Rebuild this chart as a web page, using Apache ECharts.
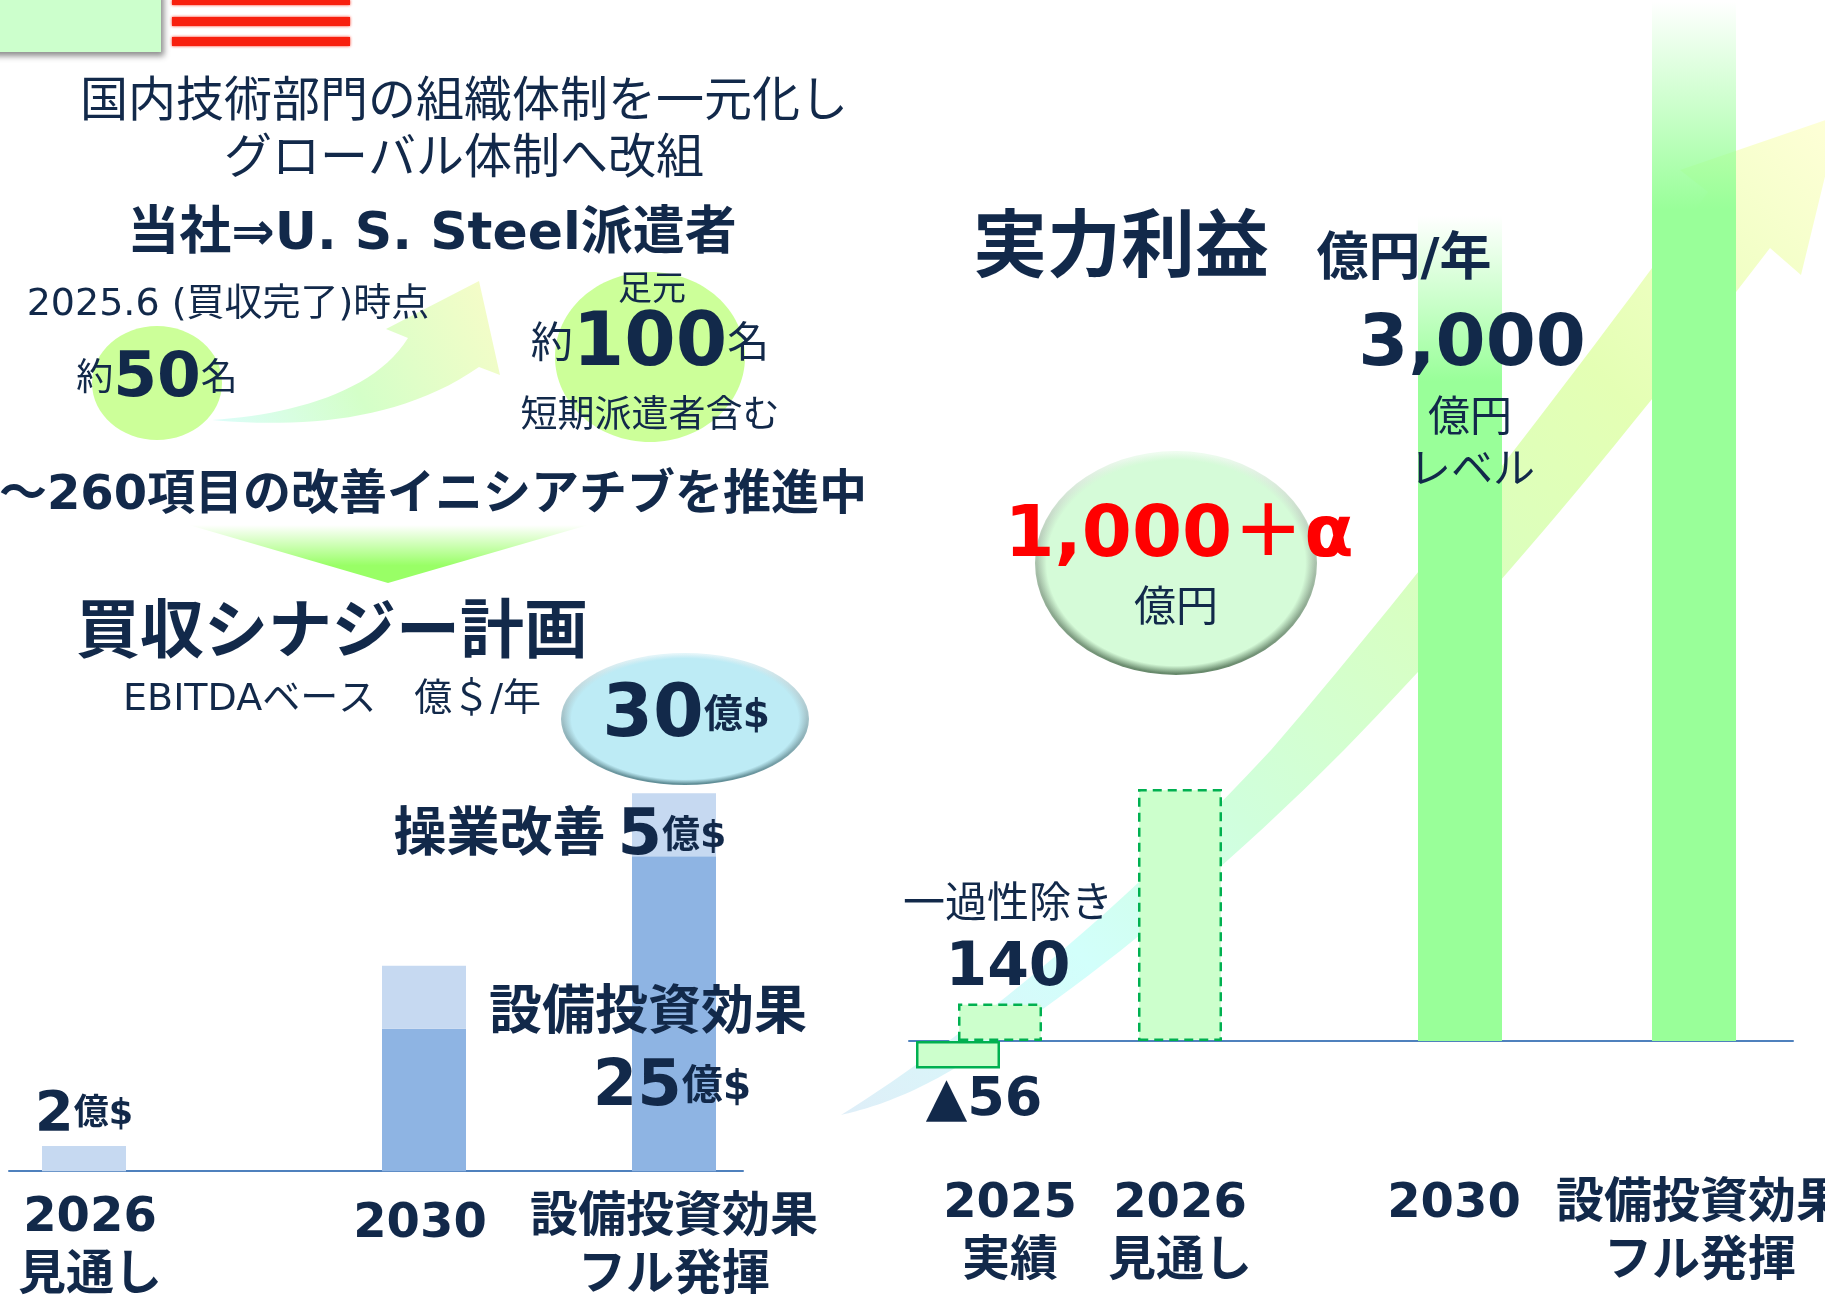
<!DOCTYPE html>
<html>
<head>
<meta charset="utf-8">
<style>
  html, body { margin: 0; background: #fff; }
  #chart { width: 1825px; height: 1296px; }
</style>
</head>
<body>
<div id="chart"></div>
<script src="https://cdn.jsdelivr.net/npm/echarts@6/dist/echarts.min.js"></script>
<script>
// left chart: synergy plan (oku $ / year)
const synergyLabels = ['2026\n見通し', '2030', '設備投資効果\nフル発揮'];
const capexEffect = [0, 11.3, 25];
const opImprovement = [2, 5, 5];

// right chart: underlying profit (oku yen / year)
// the slide is not drawn to scale, so bar heights are read from the picture
const profitLabels = ['2025\n実績', '2026\n見通し', '2030', '設備投資効果\nフル発揮'];
const profitActual = [-110];
const profitExOneOff = [150];
const profitForecast = [1008];
const profitTarget = [3300, 4160];

// both x axes are fine grained category axes (2px a slot) so the uneven bar spacing can be kept
const SYNERGY_SLOTS = 367;
const PROFIT_SLOTS = 442;
const synergyBarSlots = [37, 207, 332];
const synergyLabelSlots = [40, 205, 332];
const profitActualSlots = [24];
const profitExOneOffSlots = [45];
const profitForecastSlots = [135];
const profitTargetSlots = [275, 392];
const profitLabelSlots = [50, 135, 272, 395];

const NAVY = '#12294a';
const FONT = '"DejaVu Sans","Noto Sans CJK JP"';
const TEXT_DY = 5;
const G = echarts.graphic;

const place = (count, slots, values) => {
  const out = new Array(count).fill(null);
  slots.forEach((s, i) => { out[s] = values[i]; });
  return out;
};
const axisData = (count, slots, labels, extra) => {
  const out = new Array(count).fill('');
  slots.forEach((s, i) => {
    out[s] = { value: labels[i], textStyle: extra && extra[i] ? extra[i] : {} };
  });
  return out;
};

// sample a cubic curve for the decorative arrow outlines
const bez = (a, b, c, d) => {
  const pts = [];
  for (let i = 0; i <= 24; i++) {
    const t = i / 24, u = 1 - t;
    pts.push([
      u * u * u * a[0] + 3 * u * u * t * b[0] + 3 * u * t * t * c[0] + t * t * t * d[0],
      u * u * u * a[1] + 3 * u * u * t * b[1] + 3 * u * t * t * c[1] + t * t * t * d[1]
    ]);
  }
  return pts;
};

const text = (str, x, y, size, weight, color) => ({
  type: 'text', x, y: y + TEXT_DY, z: 10, silent: true,
  style: {
    text: str, fill: color || NAVY, align: 'center', verticalAlign: 'middle',
    font: (weight || 400) + ' ' + size + 'px ' + FONT
  }
});
const richText = (str, x, y, rich) => ({
  type: 'text', x, y: y + TEXT_DY, z: 10, silent: true,
  style: { text: str, fill: NAVY, align: 'center', verticalAlign: 'middle', rich }
});
const rt = (size, weight, extra) => Object.assign(
  { fontSize: size, fontWeight: weight, fontFamily: FONT, fill: NAVY, color: NAVY }, extra
);

// bevelled oval: circle scaled in y so the gradients follow the ellipse
const oval = (x, y, rx, ry, main, top, bottom) => [
  {
    type: 'circle', x, y, scaleY: ry / rx, z: 5, silent: true, shape: { cx: 0, cy: 0, r: rx },
    style: { fill: new G.LinearGradient(0, 0, 0, 1, [{ offset: 0, color: top }, { offset: 1, color: bottom }]) }
  },
  {
    type: 'circle', x, y, scaleY: ry / rx, z: 6, silent: true, shape: { cx: 0, cy: 0, r: rx - 2 },
    style: {
      fill: new G.RadialGradient(0.5, 0.5, 0.5, [
        { offset: 0, color: main }, { offset: 0.93, color: main }, { offset: 1, color: main + '00' }
      ])
    }
  }
];

const flagStripe = (y, h) => ({
  type: 'rect', z: 1, silent: true, shape: { x: 172, y, width: 178, height: h },
  style: { fill: '#f8200e', shadowColor: '#f8200e', shadowBlur: 3 }
});

const decorations = [
  // corner box and flag
  {
    type: 'rect', z: 1, silent: true, shape: { x: -10, y: -10, width: 171, height: 62 },
    style: { fill: '#ccffcc', shadowColor: 'rgba(0,0,0,0.45)', shadowBlur: 6, shadowOffsetX: 3, shadowOffsetY: 4 }
  },
  flagStripe(0, 5), flagStripe(17, 9), flagStripe(37, 9),
  // big arrow behind the profit bars
  {
    type: 'polygon', z: 1, silent: true,
    shape: {
      points: [].concat(
        bez([841, 1115], [930, 1060], [1100, 935], [1271, 750]),
        bez([1271, 750], [1400, 600], [1560, 395], [1708, 192]),
        [[1680, 170], [1840, 115], [1801, 275], [1770, 248]],
        bez([1770, 248], [1600, 470], [1480, 610], [1344, 750]),
        bez([1344, 750], [1180, 915], [1040, 1015], [957, 1067]),
        bez([957, 1067], [905, 1098], [870, 1108], [841, 1115])
      )
    },
    style: {
      fill: new G.LinearGradient(0, 1, 1, 0, [
        { offset: 0, color: '#dfeef8' }, { offset: 0.2, color: '#d2fffb' }, { offset: 0.35, color: '#d0ffdc' },
        { offset: 0.55, color: '#d8ffc0' }, { offset: 0.75, color: '#e4ffb4' }, { offset: 1, color: '#ffffd8' }
      ])
    }
  },
  // people ellipses and the small curved arrow
  { type: 'ellipse', z: 1, silent: true, shape: { cx: 157, cy: 383, rx: 65, ry: 57 }, style: { fill: '#ccff99' } },
  { type: 'ellipse', z: 1, silent: true, shape: { cx: 650, cy: 357, rx: 95, ry: 85 }, style: { fill: '#ccff99' } },
  {
    type: 'polygon', z: 2, silent: true,
    shape: {
      points: [].concat(
        bez([212, 420], [290, 415], [375, 392], [408, 338]),
        [[386, 329], [479, 281], [500, 375]],
        bez([479, 367], [400, 422], [300, 428], [212, 420])
      )
    },
    style: {
      fill: new G.LinearGradient(0, 1, 1, 0, [
        { offset: 0, color: '#dcfdfb' }, { offset: 0.45, color: '#d4ffc8' }, { offset: 1, color: '#f8fcc8' }
      ])
    }
  },
  // arrow under the initiatives line
  {
    type: 'polygon', z: 1, silent: true, shape: { points: [[189, 525], [588, 525], [388, 583]] },
    style: {
      fill: new G.LinearGradient(0, 0, 0, 1, [
        { offset: 0, color: '#ffffff' }, { offset: 0.7, color: '#99ff66' }, { offset: 1, color: '#99ff66' }
      ])
    }
  },
  ...oval(685, 719, 124, 66, '#bdebf5', '#e4f6fa', '#5f8d96'),
  ...oval(1176, 563, 141, 112, '#d5fbd8', '#effdf0', '#67896b')
];

const labels = [
  text('国内技術部門の組織体制を一元化し', 464, 99, 48),
  text('グローバル体制へ改組', 464, 156, 48),
  text('当社⇒U. S. Steel派遣者', 432, 230, 52, 700),
  text('2025.6 (買収完了)時点', 228, 300, 38),
  richText('{a|約}{b|50}{a|名}', 157, 375, { a: rt(37, 400), b: rt(63, 700) }),
  text('足元', 652, 286, 34),
  richText('{a|約}{b|100}{a|名}', 650, 341, { a: rt(42, 400), b: rt(74, 700) }),
  text('短期派遣者含む', 650, 412, 37),
  text('～260項目の改善イニシアチブを推進中', 433, 492, 48, 700),
  text('買収シナジー計画', 332, 630, 64, 700),
  text('EBITDAベース　億＄/年', 332, 695, 38),
  richText('{b|30}{a|億$}', 686, 712, { a: rt(39, 700), b: rt(73, 700) }),
  richText('{t|操業改善}{b|5}{a|億$}', 560, 832, {
    t: rt(53, 700), a: rt(38, 700), b: rt(64, 700, { padding: [0, 0, 0, 12] })
  }),
  text('設備投資効果', 648, 1010, 53, 700),
  richText('{b|25}{a|億$}', 672, 1083, { a: rt(41, 700), b: rt(64, 700) }),
  richText('{b|2}{a|億$}', 84, 1110, { a: rt(35, 700), b: rt(56, 700) }),
  text('実力利益', 1121, 247, 74, 700),
  text('億円/年', 1404, 256, 52, 700),
  text('3,000', 1472, 341, 72, 700),
  text('億円', 1470, 415, 42),
  text('レベル', 1472, 467, 42),
  text('1,000＋α', 1179, 532, 72, 700, '#ff0000'),
  text('億円', 1176, 605, 42),
  text('一過性除き', 1008, 901, 42),
  text('140', 1008, 964, 60, 700),
  text('▲56', 984, 1096, 54, 700)
];

const chart = echarts.init(document.getElementById('chart'));

const axisLabelBase = {
  show: true, interval: 0, color: NAVY, fontFamily: FONT, fontWeight: 700, fontSize: 48,
  lineHeight: 58, hideOverlap: false
};
const xBase = {
  type: 'category', axisTick: { show: false }, splitLine: { show: false },
  axisLine: { show: true, onZero: true, lineStyle: { color: '#4f81bd', width: 2 } }
};
const solidFade = new G.LinearGradient(0, 0, 0, 1, [
  { offset: 0, color: 'rgba(153,255,153,0)' }, { offset: 0.2, color: '#99ff99' }, { offset: 1, color: '#99ff99' }
]);
const dashed = { color: '#ccffcc', borderColor: '#00b050', borderWidth: 2.5, borderType: [9, 6] };

chart.setOption({
  animation: false,
  backgroundColor: '#ffffff',
  grid: [
    { left: 9, width: 734, top: 768, height: 403.2, outerBoundsMode: 'none' },
    { left: 909, width: 884, top: 1, height: 1140, outerBoundsMode: 'none' }
  ],
  xAxis: [
    Object.assign({}, xBase, {
      gridIndex: 0,
      data: axisData(SYNERGY_SLOTS, synergyLabelSlots, synergyLabels, [null, { padding: [6, 0, 0, 0] }, null]),
      axisLabel: Object.assign({}, axisLabelBase, { margin: 18 })
    }),
    Object.assign({}, xBase, {
      gridIndex: 1,
      data: axisData(PROFIT_SLOTS, profitLabelSlots, profitLabels),
      axisLabel: Object.assign({}, axisLabelBase, { margin: 35 })
    })
  ],
  yAxis: [
    { type: 'value', gridIndex: 0, min: 0, max: 32, show: false },
    { type: 'value', gridIndex: 1, min: -400, max: 4160, show: false }
  ],
  series: [
    {
      name: '設備投資効果', type: 'bar', xAxisIndex: 0, yAxisIndex: 0, stack: 'synergy', barWidth: 84,
      itemStyle: { color: '#8eb4e3' },
      data: place(SYNERGY_SLOTS, synergyBarSlots, capexEffect)
    },
    {
      name: '操業改善', type: 'bar', xAxisIndex: 0, yAxisIndex: 0, stack: 'synergy', barWidth: 84,
      itemStyle: { color: '#c6d9f1' },
      data: place(SYNERGY_SLOTS, synergyBarSlots, opImprovement)
    },
    {
      name: '実績', type: 'bar', xAxisIndex: 1, yAxisIndex: 1, barWidth: 84, barGap: '-100%',
      itemStyle: { color: '#ccffcc', borderColor: '#00b050', borderWidth: 2.5 },
      data: place(PROFIT_SLOTS, profitActualSlots, profitActual)
    },
    {
      name: '一過性除き', type: 'bar', xAxisIndex: 1, yAxisIndex: 1, barWidth: 84, barGap: '-100%',
      itemStyle: dashed,
      data: place(PROFIT_SLOTS, profitExOneOffSlots, profitExOneOff)
    },
    {
      name: '見通し', type: 'bar', xAxisIndex: 1, yAxisIndex: 1, barWidth: 84, barGap: '-100%',
      itemStyle: dashed,
      data: place(PROFIT_SLOTS, profitForecastSlots, profitForecast)
    },
    {
      name: '目標', type: 'bar', xAxisIndex: 1, yAxisIndex: 1, barWidth: 84, barGap: '-100%',
      itemStyle: { color: solidFade },
      data: place(PROFIT_SLOTS, profitTargetSlots, profitTarget)
    }
  ],
  graphic: { elements: decorations.concat(labels) }
});

window.addEventListener('resize', () => chart.resize());
</script>
</body>
</html>
